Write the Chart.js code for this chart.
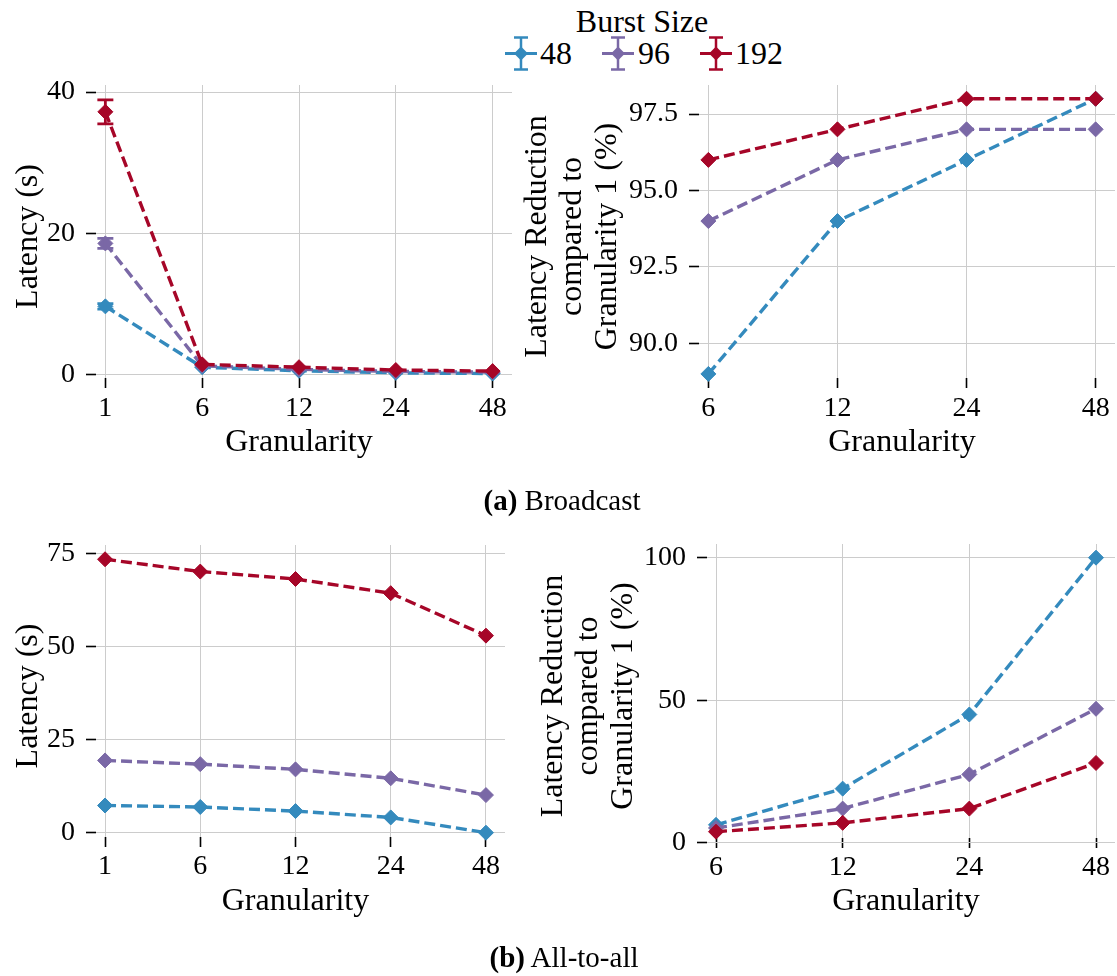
<!DOCTYPE html>
<html>
<head>
<meta charset="utf-8">
<script src="https://cdn.jsdelivr.net/npm/chart.js@4.4.1/dist/chart.umd.min.js"></script>
<style>
  body { margin: 0; background: #fff; width: 1117px; height: 976px; position: relative; overflow: hidden;
         font-family: "Liberation Serif", serif; color: #000; }
  .panel { position: absolute; }
  .lg { position: absolute; font-family: "Liberation Serif", serif; font-size: 32px; line-height: 32px; white-space: nowrap; }
  .lgicon { position: absolute; }
  .caption { position: absolute; font-family: "Liberation Serif", serif; font-size: 29px; line-height: 29px; white-space: nowrap; transform: translateX(-50%); }
</style>
</head>
<body>

<div class="lg" style="left:642px;top:5px;transform:translateX(-50%)">Burst Size</div>
<div id="legend"></div>

<canvas class="panel" id="bcLatency" width="520" height="470" style="left:0;top:0"></canvas>
<canvas class="panel" id="bcReduction" width="597" height="470" style="left:520px;top:0"></canvas>
<canvas class="panel" id="aaLatency" width="520" height="480" style="left:0;top:480px"></canvas>
<canvas class="panel" id="aaReduction" width="597" height="480" style="left:520px;top:480px"></canvas>

<div class="caption" style="left:562px;top:486px"><b>(a)</b> Broadcast</div>
<div class="caption" style="left:564px;top:943px"><b>(b)</b> All-to-all</div>

<script>
// categories
const granularity = ['1', '6', '12', '24', '48'];
const granularityNoOne = ['6', '12', '24', '48'];
const burstSizes = ['48', '96', '192'];
const colors = ['#348ABD', '#7A68A6', '#A60628'];

// (a) Broadcast - latency in seconds, with error bar half-widths
const bcLat48 = [9.7, 1.1, 0.6, 0.3, 0.2];
const bcLat96 = [18.6, 1.3, 0.8, 0.5, 0.4];
const bcLat192 = [37.2, 1.5, 1.1, 0.7, 0.55];
const bcErr48 = [0.4, 0, 0, 0, 0];
const bcErr96 = [0.7, 0, 0, 0, 0];
const bcErr192 = [1.7, 0, 0, 0, 0];

// (a) Broadcast - latency reduction vs granularity 1 (%)
const bcRed48 = [89, 94, 96, 98];
const bcRed96 = [94, 96, 97, 97];
const bcRed192 = [96, 97, 98, 98];

// (b) All-to-all - latency in seconds
const aaLat48 = [7.3, 6.9, 5.8, 4.1, 0.0];
const aaLat96 = [19.4, 18.4, 17.0, 14.6, 10.1];
const aaLat192 = [73.4, 70.1, 68.1, 64.3, 52.9];

// (b) All-to-all - latency reduction vs granularity 1 (%)
const aaRed48 = [6.3, 19, 45, 100];
const aaRed96 = [5.2, 12, 24, 47];
const aaRed192 = [3.9, 7, 12, 28];

// tick values on the y axes
const bcLatTicks = [0, 20, 40];
const bcRedTicks = [90, 92.5, 95, 97.5];
const aaLatTicks = [0, 25, 50, 75];
const aaRedTicks = [0, 50, 100];

const FONT = "'Liberation Serif', serif";
Chart.defaults.font.family = FONT;
Chart.defaults.color = '#000';

// draws vertical error bars with caps for datasets that have "errors"
const errorBars = {
    id: 'errorBars',
    afterDatasetDraw(chart, args) {
        const ds = chart.data.datasets[args.index];
        if (!ds.errors) return;
        const y = chart.scales.y;
        const ctx = chart.ctx;
        ctx.save();
        ctx.strokeStyle = ds.borderColor;
        ctx.lineWidth = 2.8;
        args.meta.data.forEach((pt, i) => {
            const e = ds.errors[i];
            if (!e) return;
            const v = ds.data[i].y;
            const top = y.getPixelForValue(v + e);
            const bot = y.getPixelForValue(v - e);
            ctx.beginPath();
            ctx.moveTo(pt.x, top); ctx.lineTo(pt.x, bot);
            ctx.moveTo(pt.x - 8, top); ctx.lineTo(pt.x + 8, top);
            ctx.moveTo(pt.x - 8, bot); ctx.lineTo(pt.x + 8, bot);
            ctx.stroke();
        });
        ctx.restore();
    }
};

function makeSeries(labels, series, errors) {
    return series.map((vals, k) => ({
        label: burstSizes[k],
        data: labels.map((_, i) => ({ x: i, y: vals[i] })),
        errors: errors ? errors[k] : null,
        borderColor: colors[k],
        backgroundColor: colors[k],
        borderWidth: 3.4,
        borderDash: [11, 5],
        pointStyle: 'rectRot',
        pointRadius: 7.5,
        pointBorderWidth: 1,
        pointBackgroundColor: colors[k],
        pointBorderColor: colors[k],
        order: 3 - k,
        clip: false,
        tension: 0
    }));
}

function makePanel(id, cfg) {
    const n = cfg.labels.length;
    const m = 0.05 * (n - 1);
    new Chart(document.getElementById(id), {
        type: 'line',
        data: { datasets: makeSeries(cfg.labels, cfg.series, cfg.errors) },
        plugins: [errorBars],
        options: {
            responsive: false,
            animation: false,
            layout: { autoPadding: false, padding: { top: cfg.padTop, right: cfg.padRight, left: 0, bottom: 0 } },
            plugins: { legend: { display: false }, tooltip: { enabled: false } },
            scales: {
                x: {
                    type: 'linear',
                    min: -m,
                    max: n - 1 + m,
                    afterBuildTicks: s => { s.ticks = cfg.labels.map((_, i) => ({ value: i })); },
                    afterFit: s => { s.height = cfg.xH; s.paddingLeft = 0; s.paddingRight = 0; },
                    ticks: {
                        callback: v => cfg.labels[v],
                        font: { family: FONT, size: 28 },
                        color: '#000',
                        padding: cfg.xTickPad,
                        maxRotation: 0,
                        autoSkip: false
                    },
                    grid: { color: '#cccccc', lineWidth: 1, tickLength: -10, tickColor: '#000', tickWidth: 1.6 },
                    border: { display: false },
                    title: {
                        display: true,
                        text: 'Granularity',
                        font: { family: FONT, size: 32, lineHeight: 1.2 },
                        color: '#000',
                        padding: { top: 0, bottom: cfg.xTitlePad }
                    }
                },
                y: {
                    min: cfg.yMin,
                    max: cfg.yMax,
                    afterBuildTicks: s => { s.ticks = cfg.yTicks.map(v => ({ value: v })); },
                    afterFit: s => { s.width = cfg.yW; s.paddingTop = 0; s.paddingBottom = 0; },
                    ticks: {
                        callback: v => cfg.yFmt(v),
                        font: { family: FONT, size: 28 },
                        color: '#000',
                        padding: 21
                    },
                    grid: { color: '#cccccc', lineWidth: 1, tickLength: -10, tickColor: '#000', tickWidth: 1.6 },
                    border: { display: false },
                    title: {
                        display: true,
                        text: cfg.yTitle,
                        font: { family: FONT, size: 32, lineHeight: cfg.yTitleLH },
                        color: '#000',
                        padding: { top: cfg.yTitlePad, bottom: 0 }
                    }
                }
            }
        }
    });
}

const reductionTitle = ['Latency Reduction', 'compared to', 'Granularity 1 (%)'];

makePanel('bcLatency', {
    labels: granularity,
    series: [bcLat48, bcLat96, bcLat192],
    errors: [bcErr48, bcErr96, bcErr192],
    yMin: -1.84, yMax: 40.99, yTicks: bcLatTicks, yFmt: v => String(v),
    yW: 86, padRight: 8, padTop: 85, xH: 82,
    xTickPad: 14, xTitlePad: 8,
    yTitle: 'Latency (s)', yTitleLH: 1.2, yTitlePad: 9
});

makePanel('bcReduction', {
    labels: granularityNoOne,
    series: [bcRed48, bcRed96, bcRed192],
    yMin: 88.54, yMax: 98.45, yTicks: bcRedTicks, yFmt: v => v.toFixed(1),
    yW: 169, padRight: 2, padTop: 85, xH: 82,
    xTickPad: 14, xTitlePad: 8,
    yTitle: reductionTitle, yTitleLH: 1.1, yTitlePad: 0
});

makePanel('aaLatency', {
    labels: granularity,
    series: [aaLat48, aaLat96, aaLat192],
    yMin: -3.84, yMax: 77.23, yTicks: aaLatTicks, yFmt: v => String(v),
    yW: 86, padRight: 15, padTop: 65, xH: 113,
    xTickPad: 13, xTitlePad: 39,
    yTitle: 'Latency (s)', yTitleLH: 1.2, yTitlePad: 9
});

makePanel('aaReduction', {
    labels: granularityNoOne,
    series: [aaRed48, aaRed96, aaRed192],
    yMin: -1.82, yMax: 104.8, yTicks: aaRedTicks, yFmt: v => String(v),
    yW: 177, padRight: 2, padTop: 64, xH: 112,
    xTickPad: 13, xTitlePad: 39,
    yTitle: reductionTitle, yTitleLH: 1.1, yTitlePad: 16
});

// legend: errorbar-style handles
const legendPos = [[505, 540], [602, 638], [700, 735]];
const legend = document.getElementById('legend');
burstSizes.forEach((b, k) => {
    const c = colors[k];
    const [iconX, textX] = legendPos[k];
    legend.insertAdjacentHTML('beforeend',
        `<svg class="lgicon" style="left:${iconX}px;top:36px" width="32" height="35" viewBox="0 0 32 35">
           <line x1="0" y1="17.5" x2="32" y2="17.5" stroke="${c}" stroke-width="3"/>
           <line x1="16" y1="1.5" x2="16" y2="33.5" stroke="${c}" stroke-width="2.5"/>
           <line x1="9" y1="1.5" x2="23" y2="1.5" stroke="${c}" stroke-width="2.5"/>
           <line x1="9" y1="33.5" x2="23" y2="33.5" stroke="${c}" stroke-width="2.5"/>
           <polygon points="16,10.5 23,17.5 16,24.5 9,17.5" fill="${c}"/>
         </svg>
         <div class="lg" style="left:${textX}px;top:37px">${b}</div>`);
});
</script>
</body>
</html>
